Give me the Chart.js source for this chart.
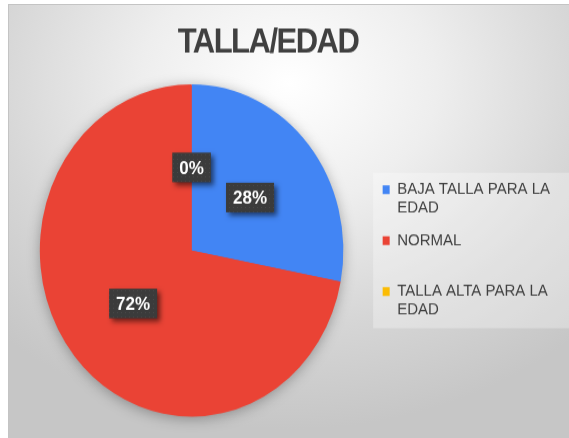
<!DOCTYPE html>
<html>
<head>
<meta charset="utf-8">
<script src="https://cdn.jsdelivr.net/npm/chart.js@4.4.1/dist/chart.umd.min.js"></script>
<style>
  html, body { margin: 0; padding: 0; background: #fff; }
  body { width: 569px; height: 438px; position: relative; overflow: hidden; }
  #frame {
    position: absolute; left: 8px; top: 4px; width: 561px; height: 434px;
    box-sizing: border-box;
    border-top: 1px solid #c4c4c4; border-left: 1px solid #c4c4c4;
    background: radial-gradient(ellipse 75% 80% at 50% 18%, #ffffff 0%, #eeeeee 35%, #d6d6d6 70%, #c6c6c6 100%);
  }
  #wrap { position: absolute; left: 0; top: 0; width: 569px; height: 400px; transform: scaleY(1.095); transform-origin: 0 0; }
</style>
</head>
<body>
<div id="frame"></div>
<div id="wrap"><canvas id="pie" width="569" height="400"></canvas></div>
<script>
const chartTitle = 'TALLA/EDAD';
const categories = [['BAJA TALLA PARA LA', 'EDAD'], ['NORMAL', ''], ['TALLA ALTA PARA LA', 'EDAD']];
const values = [28, 72, 0];
const colors = ['#4285f4', '#ea4335', '#fbbc04'];

const FONT = '"Liberation Sans", Arial, sans-serif';

// title drawn a bit left of centre, like the original
const titlePlugin = {
  id: 'titleText',
  afterDraw(chart) {
    const ctx = chart.ctx;
    ctx.save();
    ctx.font = 'bold 31px ' + FONT;
    ctx.letterSpacing = '-1.5px';
    ctx.fillStyle = '#404040';
    ctx.textAlign = 'center';
    ctx.textBaseline = 'alphabetic';
    ctx.fillText(chartTitle, 268, 48);
    ctx.restore();
  }
};

// lighter panel behind the legend
const legendBg = {
  id: 'legendBg',
  beforeDraw(chart) {
    const lg = chart.legend;
    const ctx = chart.ctx;
    const cy = lg.top + lg.height / 2;
    ctx.save();
    ctx.fillStyle = 'rgba(255,255,255,0.3)';
    ctx.fillRect(lg.left + 4, cy - 71, chart.width - lg.left, 142);
    ctx.restore();
  }
};

// soft shadow under the pie
const pieShadow = {
  id: 'pieShadow',
  beforeDatasetsDraw(chart) {
    const arc = chart.getDatasetMeta(0).data[0];
    const ctx = chart.ctx;
    ctx.save();
    ctx.shadowColor = 'rgba(0,0,0,0.35)';
    ctx.shadowBlur = 14;
    ctx.shadowOffsetY = 2;
    ctx.fillStyle = colors[1];
    ctx.beginPath();
    ctx.arc(arc.x, arc.y, arc.outerRadius - 1, 0, Math.PI * 2);
    ctx.fill();
    ctx.restore();
  }
};

// dotted dark fill for the label boxes
function labelPattern(ctx) {
  const c = document.createElement('canvas');
  c.width = 4; c.height = 4;
  const p = c.getContext('2d');
  p.fillStyle = '#3b3b3b';
  p.fillRect(0, 0, 4, 4);
  p.fillStyle = '#484848';
  p.fillRect(1, 1, 1, 1);
  return ctx.createPattern(c, 'repeat');
}

// dark percentage boxes
const pctLabels = {
  id: 'pctLabels',
  afterDatasetsDraw(chart) {
    const ctx = chart.ctx;
    const data = chart.data.datasets[0].data;
    const total = data.reduce((a, b) => a + b, 0);
    const fill = labelPattern(ctx);
    chart.getDatasetMeta(0).data.forEach((arc, i) => {
      const pos = arc.tooltipPosition();
      const text = Math.round(data[i] / total * 100) + '%';
      ctx.save();
      ctx.font = 'bold 17px ' + FONT;
      const w = ctx.measureText(text).width + 14;
      const h = 27;
      ctx.shadowColor = 'rgba(0,0,0,0.55)';
      ctx.shadowBlur = 5;
      ctx.shadowOffsetX = 3;
      ctx.shadowOffsetY = 3;
      ctx.fillStyle = fill;
      ctx.fillRect(pos.x - w / 2, pos.y - h / 2, w, h);
      ctx.shadowColor = 'transparent';
      ctx.fillStyle = '#ffffff';
      ctx.textAlign = 'center';
      ctx.textBaseline = 'middle';
      ctx.fillText(text, pos.x, pos.y + 1);
      ctx.restore();
    });
  }
};

new Chart(document.getElementById('pie'), {
  type: 'pie',
  data: {
    labels: categories,
    datasets: [{
      data: values,
      backgroundColor: colors,
      borderWidth: 0
    }]
  },
  options: {
    responsive: false,
    animation: false,
    layout: { padding: { top: 77, bottom: 19.5, left: 14, right: 9 } },
    plugins: {
      title: { display: false },
      tooltip: { enabled: false },
      legend: {
        position: 'right',
        labels: {
          boxWidth: 7,
          boxHeight: 8,
          padding: 13.5,
          color: '#404040',
          font: { family: FONT, size: 15, lineHeight: 1.1 }
        }
      }
    }
  },
  plugins: [legendBg, pieShadow, pctLabels, titlePlugin]
});
</script>
</body>
</html>
